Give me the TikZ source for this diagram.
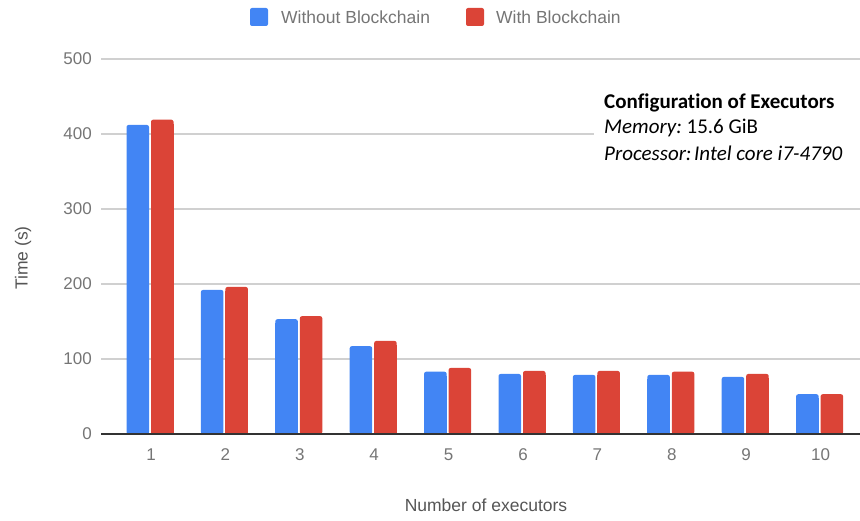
\documentclass[tikz,border=0pt]{standalone}
\usepackage{fontspec}
\setmainfont{Liberation Sans}
\newfontfamily\calib[Ligatures=NoCommon,Contextuals=NoAlternate]{Carlito}
\definecolor{gblue}{HTML}{4285F4}
\definecolor{gred}{HTML}{DB4437}
\definecolor{ticktxt}{HTML}{757575}
\definecolor{titletxt}{HTML}{555555}
\definecolor{gridc}{HTML}{D0D0D0}
\definecolor{axisc}{HTML}{333333}
\begin{document}
\begin{tikzpicture}[x=1pt,y=-1pt,
  gridline/.style={draw=gridc,line width=1.2pt},
  axisline/.style={draw=axisc,line width=1.2pt},
  ticklbl/.style={text=ticktxt,font=\fontsize{17}{20}\selectfont,inner sep=0pt},
  ttl/.style={text=titletxt,font=\fontsize{17.5}{20}\selectfont,inner sep=0pt},
  legtxt/.style={text=ticktxt,font=\fontsize{17.5}{20}\selectfont,inner sep=0pt,anchor=west},
  cfg/.style={font=\calib\fontsize{21}{25}\selectfont,inner sep=0pt,anchor=west},
]
\useasboundingbox (0,0) rectangle (860,521);
% gridlines and y tick labels
\foreach \v in {0,100,...,500}{
  \pgfmathsetmacro{\yy}{434-0.75*\v}
  \ifnum\v>0 \draw[gridline] (101,\yy) -- (860,\yy);\fi
  \node[ticklbl,anchor=east] (y\v) at (92,\yy) {\v};
}
% white box behind configuration text
\fill[white] (594,86) rectangle (860,166);
% bars
\foreach \i/\a/\b in {1/412/419,2/192/196,3/153/157,4/117/124,5/83/88,6/80/84,7/78.7/84,8/78.7/83,9/76/80,10/53/53}{
  \pgfmathsetmacro{\cx}{150+74.4*(\i-1)}
  \pgfmathsetmacro{\ta}{434-0.75*\a}
  \pgfmathsetmacro{\tb}{434-0.75*\b}
  \fill[gblue,rounded corners=2pt] (\cx-23.5,434) rectangle (\cx-1,\ta);
  \fill[gblue] (\cx-23.5,434) rectangle (\cx-1,\ta+4);
  \fill[gred,rounded corners=2pt] (\cx+1,434) rectangle (\cx+23.5,\tb);
  \fill[gred] (\cx+1,434) rectangle (\cx+23.5,\tb+4);
  \node[ticklbl] (x\i) at (\cx+1,455) {\i};
}
% axis
\draw[axisline] (101,434) -- (860,434);
% axis titles
\node[ttl,rotate=90] (ytitle) at (23,258) {Time (s)};
\node[ttl] (xtitle) at (486,505) {Number of executors};
% legend
\fill[gblue,rounded corners=2pt] (250,8) rectangle (268,26);
\node[legtxt] (leg1) at (281,17.5) {Without Blockchain};
\fill[gred,rounded corners=2pt] (466,8) rectangle (484,26);
\node[legtxt] (leg2) at (496,17.5) {With Blockchain};
% configuration text
\node[cfg] (c1) at (604,103) {\bfseries Configurat\kern0pt ion of Executors};
\node[cfg] (c2) at (604,128) {\itshape Memory:\upshape\ 15.6 GiB};
\node[cfg] (c3) at (604,153) {\itshape Processor:\hspace{0.12em}Intel core i7-4790};
\end{tikzpicture}
\end{document}
